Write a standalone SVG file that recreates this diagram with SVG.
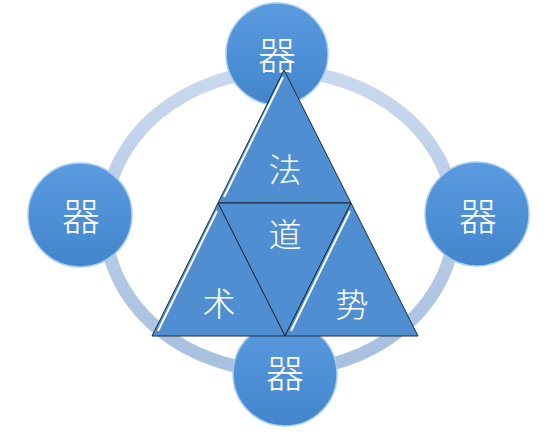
<svg xmlns="http://www.w3.org/2000/svg" width="556" height="439" viewBox="0 0 556 439">
<defs>
<linearGradient id="cg" x1="0" y1="0" x2="0" y2="1">
<stop offset="0" stop-color="#5a9be0"/>
<stop offset="1" stop-color="#4385cb"/>
</linearGradient>
<linearGradient id="rg" x1="0" y1="0" x2="0" y2="1">
<stop offset="0" stop-color="#c9d8ed"/>
<stop offset="1" stop-color="#a7c0e0"/>
</linearGradient>
<style>
.node circle{fill:url(#cg);stroke:#a8cdf2;stroke-width:1.5}
.tri{fill:#4f8fd1;stroke:#1c2a3a;stroke-width:1}
.hl{stroke:#ffffff;stroke-width:2;fill:none}
text{font-family:"Noto Sans CJK SC","Noto Sans CJK JP",sans-serif;font-weight:300;fill:#ffffff;text-anchor:middle;dominant-baseline:central}
.big{font-size:38px}
.mid{font-size:33px}
</style>
</defs>
<g id="connectors">
<ellipse cx="280" cy="221" rx="175" ry="150" fill="none" stroke="url(#rg)" stroke-width="13"/>
</g>
<g id="node-left" class="node"><circle cx="80" cy="215" r="52"/><text class="big" x="81" y="213">器</text></g>
<g id="node-right" class="node"><circle cx="477" cy="214" r="52"/><text class="big" x="478" y="213">器</text></g>
<g id="node-top" class="node"><circle cx="277" cy="54" r="51"/><text class="big" x="277" y="52">器</text></g>
<g id="node-bottom" class="node"><circle cx="285" cy="374" r="52"/><text class="big" x="285" y="370">器</text></g>
<g id="node-fa">
<polygon class="tri" points="284,70 218,203 351,203"/>
<line class="hl" x1="283" y1="77" x2="224" y2="197"/>
<text class="mid" x="285" y="168">法</text>
</g>
<g id="node-dao">
<polygon class="tri" points="218,203 351,203 285,336"/>
<text class="mid" x="285" y="233">道</text>
</g>
<g id="node-shu">
<polygon class="tri" points="218,203 152,336 285,336"/>
<line class="hl" x1="217" y1="211" x2="158" y2="331"/>
<text class="mid" x="219" y="302">术</text>
</g>
<g id="node-shi">
<polygon class="tri" points="351,203 285,336 418,336"/>
<line class="hl" x1="350" y1="211" x2="291" y2="331"/>
<text class="mid" x="352" y="303">势</text>
</g>
</svg>
